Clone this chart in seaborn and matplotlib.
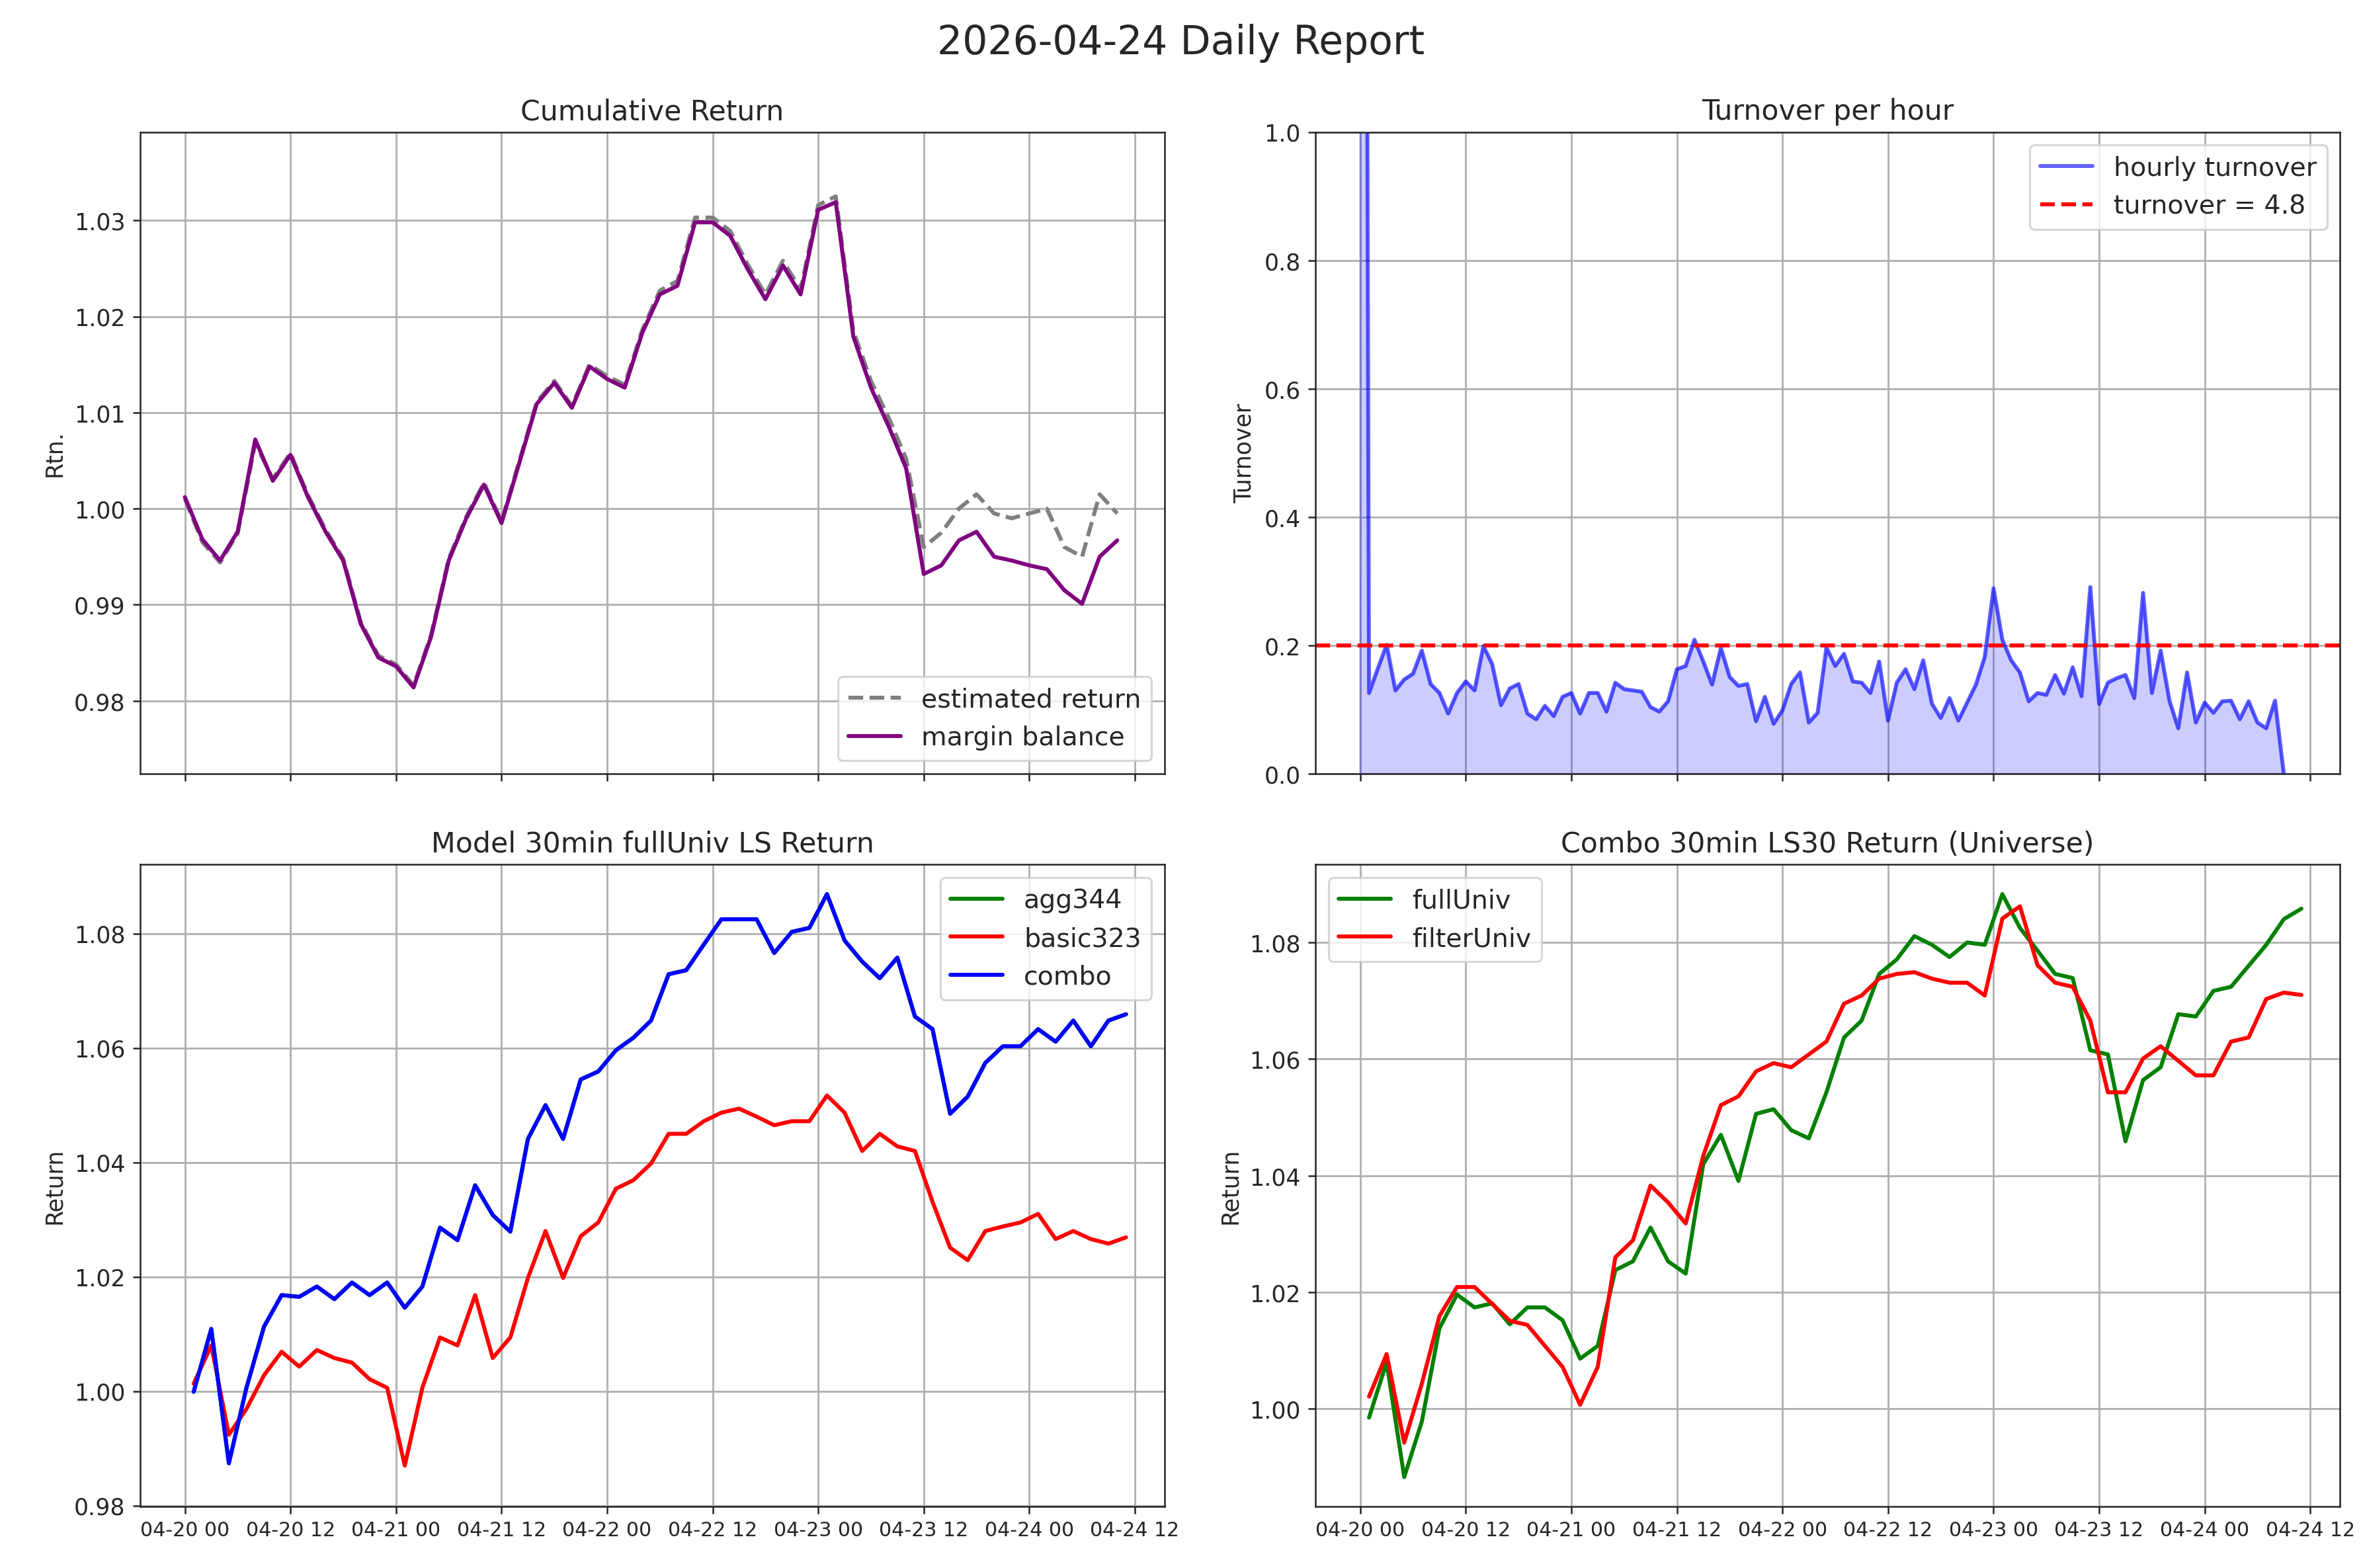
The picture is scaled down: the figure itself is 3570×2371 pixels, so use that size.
import numpy as np
import pandas as pd
import matplotlib
matplotlib.use("Agg")
import matplotlib.pyplot as plt
import matplotlib.dates as mdates
import seaborn as sns

# ---------------- data ----------------
start_2h = "2026-04-20 00:00"
margin_balance = [1.0012, 0.9968, 0.9946, 0.9976, 1.0072, 1.0029, 1.0056, 1.0012, 0.9976, 0.9946,
                  0.9880, 0.9845, 0.9836, 0.9814, 0.9867, 0.9946, 0.9990, 1.0025, 0.9985, 1.0047,
                  1.0109, 1.0131, 1.0105, 1.0148, 1.0135, 1.0126, 1.0183, 1.0223, 1.0232, 1.0298,
                  1.0298, 1.0284, 1.0249, 1.0218, 1.0253, 1.0223, 1.0311, 1.0319, 1.0179, 1.0126,
                  1.0086, 1.0042, 0.9932, 0.9941, 0.9967, 0.9976, 0.9950, 0.9946, 0.9941, 0.9937,
                  0.9915, 0.9901, 0.9950, 0.9967]
estimated_return = [1.0010, 0.9965, 0.9944, 0.9974, 1.0068, 1.0031, 1.0058, 1.0014, 0.9978, 0.9948,
                    0.9882, 0.9847, 0.9838, 0.9816, 0.9869, 0.9948, 0.9992, 1.0027, 0.9987, 1.0049,
                    1.0111, 1.0133, 1.0107, 1.0150, 1.0138, 1.0129, 1.0186, 1.0227, 1.0237, 1.0303,
                    1.0303, 1.0289, 1.0254, 1.0223, 1.0258, 1.0228, 1.0316, 1.0325, 1.0185, 1.0133,
                    1.0095, 1.0052, 0.9960, 0.9975, 1.0000, 1.0015, 0.9995, 0.9990, 0.9995, 1.0000,
                    0.9960, 0.9950, 1.0015, 0.9995]

start_ret = "2026-04-20 01:00"
combo = [0.9999, 1.0109, 0.9874, 1.0006, 1.0113, 1.0168, 1.0165, 1.0183, 1.0161, 1.0190,
         1.0168, 1.0190, 1.0146, 1.0183, 1.0286, 1.0264, 1.0360, 1.0308, 1.0279, 1.0441,
         1.0500, 1.0441, 1.0545, 1.0559, 1.0596, 1.0618, 1.0648, 1.0729, 1.0736, 1.0781,
         1.0825, 1.0825, 1.0825, 1.0766, 1.0803, 1.0810, 1.0869, 1.0788, 1.0751, 1.0722,
         1.0758, 1.0655, 1.0633, 1.0485, 1.0515, 1.0574, 1.0603, 1.0603, 1.0633, 1.0611,
         1.0648, 1.0603, 1.0648, 1.0659]
agg344 = list(combo)
basic323 = [1.0013, 1.0080, 0.9924, 0.9969, 1.0028, 1.0069, 1.0043, 1.0072, 1.0058, 1.0050,
            1.0021, 1.0006, 0.9870, 1.0006, 1.0094, 1.0080, 1.0168, 1.0058, 1.0094, 1.0198,
            1.0280, 1.0198, 1.0271, 1.0295, 1.0354, 1.0369, 1.0398, 1.0450, 1.0450, 1.0472,
            1.0487, 1.0494, 1.0480, 1.0465, 1.0472, 1.0472, 1.0517, 1.0487, 1.0420, 1.0450,
            1.0428, 1.0420, 1.0331, 1.0251, 1.0229, 1.0280, 1.0288, 1.0295, 1.0310, 1.0266,
            1.0280, 1.0266, 1.0258, 1.0269]
fullUniv = [0.9985, 1.0080, 0.9883, 0.9978, 1.0138, 1.0196, 1.0174, 1.0181, 1.0145, 1.0174,
            1.0174, 1.0152, 1.0086, 1.0108, 1.0238, 1.0253, 1.0311, 1.0253, 1.0232, 1.0420,
            1.0470, 1.0391, 1.0506, 1.0514, 1.0478, 1.0464, 1.0543, 1.0637, 1.0666, 1.0746,
            1.0771, 1.0811, 1.0796, 1.0775, 1.0800, 1.0796, 1.0883, 1.0825, 1.0786, 1.0746,
            1.0739, 1.0615, 1.0608, 1.0459, 1.0564, 1.0586, 1.0677, 1.0673, 1.0717, 1.0724,
            1.0760, 1.0796, 1.0840, 1.0858]
filterUniv = [1.0021, 1.0094, 0.9942, 1.0043, 1.0159, 1.0209, 1.0209, 1.0180, 1.0151, 1.0144,
              1.0108, 1.0072, 1.0007, 1.0072, 1.0260, 1.0289, 1.0383, 1.0354, 1.0318, 1.0434,
              1.0521, 1.0536, 1.0579, 1.0593, 1.0586, 1.0608, 1.0630, 1.0695, 1.0709, 1.0738,
              1.0746, 1.0749, 1.0738, 1.0731, 1.0731, 1.0709, 1.0841, 1.0862, 1.0761, 1.0731,
              1.0724, 1.0666, 1.0543, 1.0543, 1.0601, 1.0622, 1.0597, 1.0572, 1.0572, 1.0630,
              1.0637, 1.0703, 1.0714, 1.0710]

start_turn = "2026-04-20 00:00"
turnover = [4.8, 0.126, 0.164, 0.201, 0.130, 0.147, 0.156, 0.192, 0.140, 0.126,
            0.094, 0.126, 0.144, 0.130, 0.199, 0.171, 0.107, 0.133, 0.140, 0.094,
            0.085, 0.106, 0.090, 0.120, 0.126, 0.094, 0.126, 0.126, 0.097, 0.142,
            0.132, 0.130, 0.128, 0.104, 0.097, 0.113, 0.163, 0.168, 0.209, 0.175,
            0.139, 0.196, 0.151, 0.137, 0.140, 0.082, 0.120, 0.078, 0.099, 0.140,
            0.158, 0.080, 0.095, 0.197, 0.168, 0.187, 0.144, 0.142, 0.126, 0.175,
            0.083, 0.142, 0.163, 0.132, 0.177, 0.109, 0.087, 0.118, 0.083, 0.111,
            0.139, 0.182, 0.289, 0.209, 0.177, 0.158, 0.113, 0.126, 0.123, 0.154,
            0.125, 0.166, 0.121, 0.291, 0.109, 0.142, 0.149, 0.154, 0.118, 0.282,
            0.126, 0.192, 0.114, 0.071, 0.158, 0.080, 0.111, 0.095, 0.113, 0.114,
            0.085, 0.113, 0.080, 0.071, 0.114, 0.0]
turnover_threshold = 0.2
turnover_label = "turnover = 4.8"

# ---------------- frames ----------------
t_cum = pd.date_range(start_2h, periods=len(margin_balance), freq="2h")
t_ret = pd.date_range(start_ret, periods=len(combo), freq="2h")
t_turn = pd.date_range(start_turn, periods=len(turnover), freq="1h")

sns.set_style("ticks")
plt.rcParams["font.family"] = ["DejaVu Sans"]

LW = 1.9
fig, axes = plt.subplots(2, 2, figsize=(15.7, 10.43), dpi=227.4, sharex=True)
fig.subplots_adjust(left=0.0593, right=0.9911, top=0.9155, bottom=0.0394,
                    wspace=0.147, hspace=0.141)
fig.suptitle("2026-04-24 Daily Report", fontsize=19, y=0.985)

ax = axes[0, 0]
sns.lineplot(x=t_cum, y=estimated_return, ax=ax, color="gray", linestyle="--",
             label="estimated return", lw=LW)
sns.lineplot(x=t_cum, y=margin_balance, ax=ax, color="purple", label="margin balance", lw=LW)
ax.set_title("Cumulative Return", fontsize=13.5)
ax.set_ylabel("Rtn.", fontsize=11)
ax.set_ylim(0.9724, 1.0392)
ax.legend(loc="lower right", fontsize=12.5)

ax = axes[0, 1]
sns.lineplot(x=t_turn, y=turnover, ax=ax, color="blue", alpha=0.6, label="hourly turnover", lw=LW)
ax.fill_between(t_turn, turnover, color="blue", alpha=0.2)
ax.axhline(turnover_threshold, color="red", linestyle="--", lw=LW, label=turnover_label)
ax.set_title("Turnover per hour", fontsize=13.5)
ax.set_ylabel("Turnover", fontsize=11)
ax.set_ylim(0, 1)
ax.legend(loc="upper right", fontsize=12.5)

ax = axes[1, 0]
sns.lineplot(x=t_ret, y=agg344, ax=ax, color="green", label="agg344", lw=LW)
sns.lineplot(x=t_ret, y=basic323, ax=ax, color="red", label="basic323", lw=LW)
sns.lineplot(x=t_ret, y=combo, ax=ax, color="blue", label="combo", lw=LW)
ax.set_title("Model 30min fullUniv LS Return", fontsize=13.5)
ax.set_ylabel("Return", fontsize=11)
ax.set_ylim(0.9799, 1.0921)
ax.legend(loc="upper right", fontsize=12.5)

ax = axes[1, 1]
sns.lineplot(x=t_ret, y=fullUniv, ax=ax, color="green", label="fullUniv", lw=LW)
sns.lineplot(x=t_ret, y=filterUniv, ax=ax, color="red", label="filterUniv", lw=LW)
ax.set_title("Combo 30min LS30 Return (Universe)", fontsize=13.5)
ax.set_ylabel("Return", fontsize=11)
ax.set_ylim(0.9833, 1.0934)
ax.legend(loc="upper left", fontsize=12.5)

x0 = pd.Timestamp("2026-04-20 00:00")
for ax in axes.flat:
    ax.grid(True, color="#b0b0b0", lw=0.9)
    ax.set_xlabel("")
    ax.tick_params(labelsize=11)
    for s in ax.spines.values():
        s.set_visible(True)
ax = axes[1, 1]
ax.set_xlim(x0 - pd.Timedelta(hours=5.1), x0 + pd.Timedelta(hours=111.4))
ax.xaxis.set_major_locator(mdates.HourLocator(byhour=[0, 12]))
ax.xaxis.set_major_formatter(mdates.DateFormatter("%m-%d %H"))
for ax in axes[1]:
    ax.tick_params(axis="x", labelsize=9.5)

fig.savefig("out.png", dpi=227.4)
